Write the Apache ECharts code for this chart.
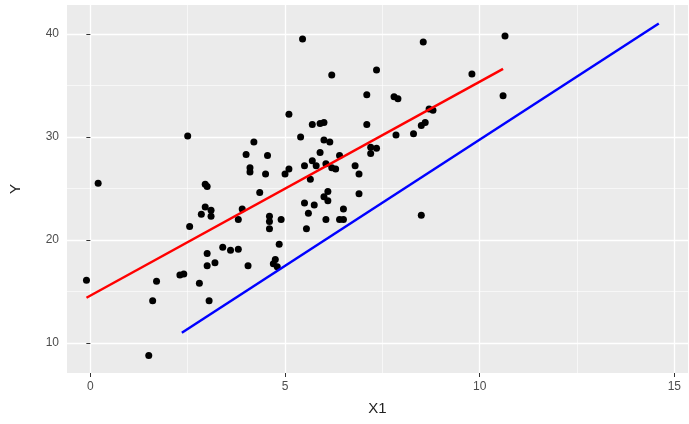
<!DOCTYPE html>
<html>
<head>
<meta charset="utf-8">
<script src="https://cdn.jsdelivr.net/npm/echarts@6/dist/echarts.min.js"></script>
<style>html,body{margin:0;padding:0;background:#fff}#chart{width:689px;height:424px}</style>
</head>
<body>
<div id="chart"></div>
<script>
let points = [
  [-0.1,16.1],[0.2,25.5],[1.5,8.8],[1.6,14.1],[1.7,16.0],[2.3,16.6],[2.4,16.7],[2.5,30.1],[2.55,21.3],
  [2.8,15.8],[2.85,22.5],[2.95,23.2],[2.95,25.4],[3.0,25.2],[3.0,17.5],[3.0,18.7],[3.05,14.1],[3.1,22.9],
  [3.1,22.3],[3.2,17.8],[3.4,19.3],[3.6,19.0],[3.8,19.1],[3.8,22.0],[3.9,23.0],[4.0,28.3],[4.05,17.5],
  [4.1,27.0],[4.1,26.6],[4.2,29.5],[4.35,24.6],[4.5,26.4],[4.55,28.2],[4.6,21.8],[4.6,22.3],[4.6,21.1],
  [4.7,17.7],[4.75,18.1],[4.8,17.4],[4.85,19.6],[4.9,22.0],[5.0,26.4],[5.1,32.2],[5.1,26.9],[5.4,30.0],
  [5.45,39.5],[5.5,27.2],[5.5,23.6],[5.55,21.1],[5.6,22.6],[5.65,25.9],[5.7,31.2],[5.7,27.7],[5.75,23.4],
  [5.8,27.2],[5.9,28.5],[5.9,31.3],[6.0,31.4],[6.0,29.7],[6.05,27.4],[6.0,24.2],[6.05,22.0],[6.1,23.8],
  [6.1,24.7],[6.15,29.5],[6.2,36.0],[6.2,27.0],[6.3,26.9],[6.4,28.2],[6.4,22.0],[6.5,22.0],[6.5,23.0],
  [6.8,27.2],[6.9,26.4],[6.9,24.5],[7.1,31.2],[7.1,34.1],[7.2,28.4],[7.2,29.0],[7.35,28.9],[7.35,36.5],
  [7.8,33.9],[7.9,33.7],[7.85,30.2],[8.3,30.3],[8.5,31.1],[8.5,22.4],[8.6,31.4],[8.55,39.2],[8.7,32.7],
  [8.8,32.6],[9.8,36.1],[10.6,34.0],[10.65,39.8]
];
let redLine = [[-0.1,14.4],[10.6,36.6]];
let blueLine = [[2.35,11.0],[14.6,41.0]];
let xTicks = [0,5,10,15];
let yTicks = [10,20,30,40];
let xMinor = [2.5,7.5,12.5];
let yMinor = [15,25,35];

let chart = echarts.init(document.getElementById('chart'));
let grid = (vals, axis, w) => vals.map(v => ({ [axis]: v, lineStyle: { color: '#fff', width: w, type: 'solid' } }));
chart.setOption({
  animation: false,
  grid: { left: 66, right: 1, top: 5, bottom: 51, backgroundColor: '#EBEBEB', show: true, borderWidth: 0 },
  xAxis: {
    type: 'value', min: -0.6, max: 15.35,
    name: 'X1', nameLocation: 'middle', nameGap: 28,
    nameTextStyle: { color: '#222', fontSize: 15, fontFamily: 'Arial' },
    splitLine: { show: false },
    axisLine: { show: false },
    axisTick: { show: true, customValues: xTicks, length: 4, lineStyle: { color: '#333' } },
    axisLabel: { customValues: xTicks, color: '#4D4D4D', fontSize: 12, fontFamily: 'Arial', margin: 8 }
  },
  yAxis: {
    type: 'value', min: 7.1, max: 42.8,
    name: 'Y', nameLocation: 'middle', nameGap: 44,
    nameTextStyle: { color: '#222', fontSize: 15, fontFamily: 'Arial' },
    splitLine: { show: false },
    axisLine: { show: false },
    axisTick: { show: true, customValues: yTicks, length: 4, lineStyle: { color: '#333' } },
    axisLabel: { customValues: yTicks, color: '#4D4D4D', fontSize: 12, fontFamily: 'Arial', margin: 8 }
  },
  series: [
    {
      type: 'line', data: [], silent: true, z: 0,
      markLine: {
        symbol: 'none', silent: true, label: { show: false }, z: 0,
        data: grid(xMinor, 'xAxis', 0.6).concat(grid(yMinor, 'yAxis', 0.6),
              grid(xTicks, 'xAxis', 1.3), grid(yTicks, 'yAxis', 1.3))
      }
    },
    { type: 'scatter', data: points, symbolSize: 7, itemStyle: { color: '#000', opacity: 1 }, z: 5 },
    { type: 'line', data: redLine, symbol: 'none', lineStyle: { color: '#FF0000', width: 2.5 }, z: 6 },
    { type: 'line', data: blueLine, symbol: 'none', lineStyle: { color: '#0000FF', width: 2.5 }, z: 6 }
  ]
});
</script>
</body>
</html>
